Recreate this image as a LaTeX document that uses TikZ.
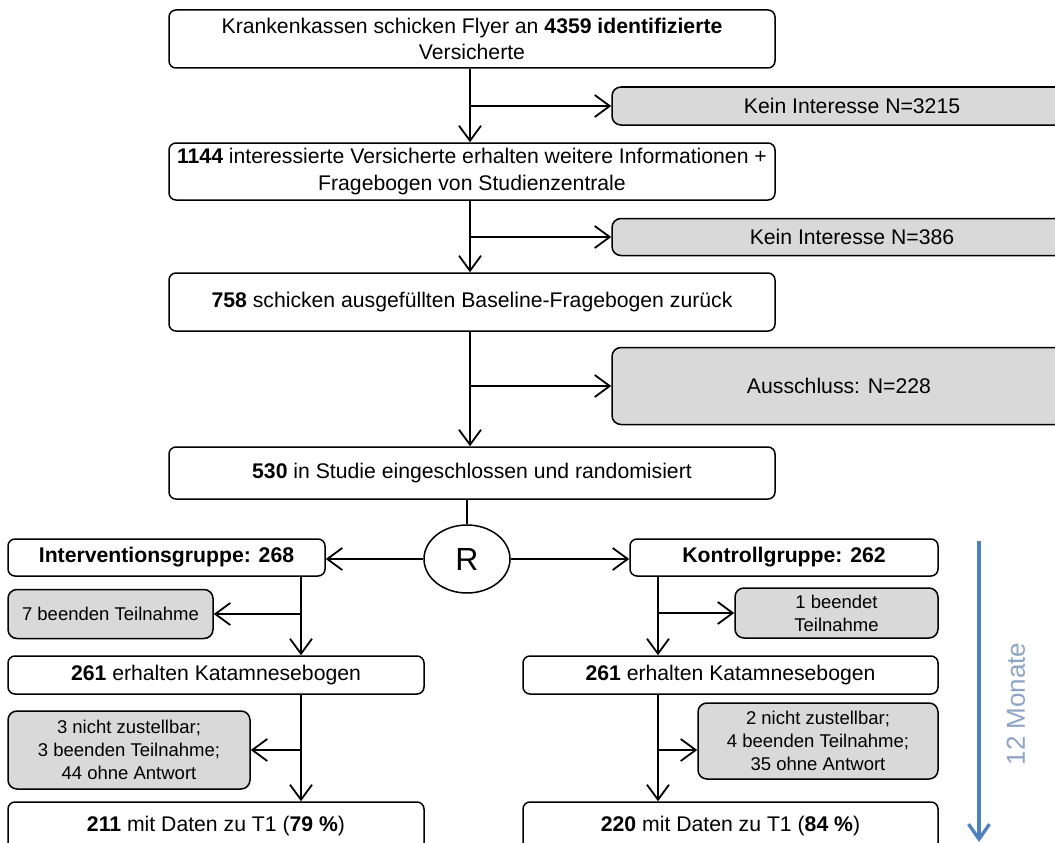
\documentclass[tikz,border=0pt]{standalone}
\usepackage{fontspec}
\setmainfont{Liberation Sans}
\usetikzlibrary{arrows.meta,shapes.geometric}
\definecolor{dropfill}{RGB}{217,217,217}
\definecolor{timeblue}{RGB}{79,129,189}
\definecolor{timetext}{RGB}{141,164,196}

\tikzset{
  box/.style={draw=black, line width=1.5pt, rounded corners=7pt, align=center,
              inner sep=0pt, font=\fontsize{21.2}{26.5}\selectfont},
  dropbox/.style={box, fill=dropfill, rounded corners=9pt},
  smalldrop/.style={dropbox, font=\fontsize{18.5}{23}\selectfont},
  flow/.style={line width=1.8pt, -{Straight Barb[length=15pt,width=22pt]}},
  plain/.style={line width=1.8pt},
  timeline/.style={line width=3.3pt, draw=timeblue, -{Straight Barb[length=15pt,width=21pt]}},
}

\begin{document}
\begin{tikzpicture}[x=1pt,y=-1pt]
\useasboundingbox (0,0) rectangle (1055,843);

% axis positions of the three vertical flows
\coordinate (m) at (470,0);
\coordinate (lc) at (301,0);
\coordinate (rc) at (658,0);

% recruitment chain
\node[box, minimum width=606pt, minimum height=58pt] (b1) at (472,39)
  {Krankenkassen schicken Flyer an \textbf{4359 identifizierte}\\Versicherte};
\node[box, minimum width=606pt, minimum height=57pt] (b2) at (472,171.5)
  {\textbf{1144} interessierte Versicherte erhalten weitere Informationen +\\Fragebogen von Studienzentrale};
\node[box, minimum width=606pt, minimum height=58pt] (b3) at (472,302)
  {\textbf{758} schicken ausgefüllten Baseline-Fragebogen zurück};
\node[box, minimum width=606pt, minimum height=52pt] (b4) at (472,473)
  {\textbf{530} in Studie eingeschlossen und randomisiert};

% drop-outs before randomisation
\node[dropbox, minimum width=480pt, minimum height=38pt] (g1) at (852,106) {Kein Interesse N=3215};
\node[dropbox, minimum width=480pt, minimum height=37pt] (g2) at (852,237) {Kein Interesse N=386};
\node[dropbox, minimum width=454pt, minimum height=77pt] (g3) at (839,386) {Ausschluss: N=228};

% randomisation
\node[draw, ellipse, line width=1.5pt, minimum width=86pt, minimum height=68pt, inner sep=0pt,
      font=\fontsize{32}{32}\selectfont] (R) at (467,559) {R};

% intervention arm
\node[box, minimum width=317pt, minimum height=37pt] (iv) at (166.5,557.5) {\textbf{Interventionsgruppe: 268}};
\node[smalldrop, minimum width=205pt, minimum height=49pt] (d1) at (110.5,614) {7 beenden Teilnahme};
\node[box, minimum width=416pt, minimum height=38pt] (k1) at (216,675) {\textbf{261} erhalten Katamnesebogen};
\node[smalldrop, minimum width=242pt, minimum height=78pt] (d2) at (129,750)
  {3 nicht zustellbar;\\3 beenden Teilnahme;\\44 ohne Antwort};
\node[box, minimum width=416pt, minimum height=48pt] (e1) at (216,826) {\textbf{211} mit Daten zu T1 (\textbf{79 \%})};

% control arm
\node[box, minimum width=308pt, minimum height=37pt] (kv) at (784,557.5) {\textbf{Kontrollgruppe: 262}};
\node[smalldrop, minimum width=203pt, minimum height=50pt] (d3) at (836.5,613) {1 beendet\\Teilnahme};
\node[box, minimum width=415pt, minimum height=38pt] (k2) at (730.5,675) {\textbf{261} erhalten Katamnesebogen};
\node[smalldrop, minimum width=240pt, minimum height=76pt] (d4) at (818,741)
  {2 nicht zustellbar;\\4 beenden Teilnahme;\\35 ohne Antwort};
\node[box, minimum width=415pt, minimum height=48pt] (e2) at (730.5,826) {\textbf{220} mit Daten zu T1 (\textbf{84 \%})};

% main flow
\draw[flow] (b1.south -| m) -- (b2.north -| m);
\draw[flow] (b2.south -| m) -- (b3.north -| m);
\draw[flow] (b3.south -| m) -- (b4.north -| m);
\draw[flow] (g1.west -| m) -- (g1.west);
\draw[flow] (g2.west -| m) -- (g2.west);
\draw[flow] (g3.west -| m) -- (g3.west);
\draw[plain] (R.north) -- (R.north |- b4.south);
\draw[flow] (R.west) -- (R.west -| iv.east);
\draw[flow] (R.east) -- (R.east -| kv.west);

% intervention arm flow
\draw[flow] (iv.south -| lc) -- (k1.north -| lc);
\draw[flow] (d1.east -| lc) -- (d1.east);
\draw[flow] (k1.south -| lc) -- (e1.north -| lc);
\draw[flow] (d2.east -| lc) -- (d2.east);

% control arm flow
\coordinate (j4) at (658,750);
\draw[flow] (kv.south -| rc) -- (k2.north -| rc);
\draw[flow] (d3.west -| rc) -- (d3.west);
\draw[flow] (k2.south -| rc) -- (e2.north -| rc);
\draw[flow] (j4) -- (j4 -| d4.west);

% follow-up period
\coordinate (t0) at (979,541);
\coordinate (t1) at (979,842);
\draw[timeline] (t0) -- (t1);
\node[rotate=90, text=timetext, font=\fontsize{26}{26}\selectfont] (tl) at (1016,704) {12 Monate};
\end{tikzpicture}
\end{document}
